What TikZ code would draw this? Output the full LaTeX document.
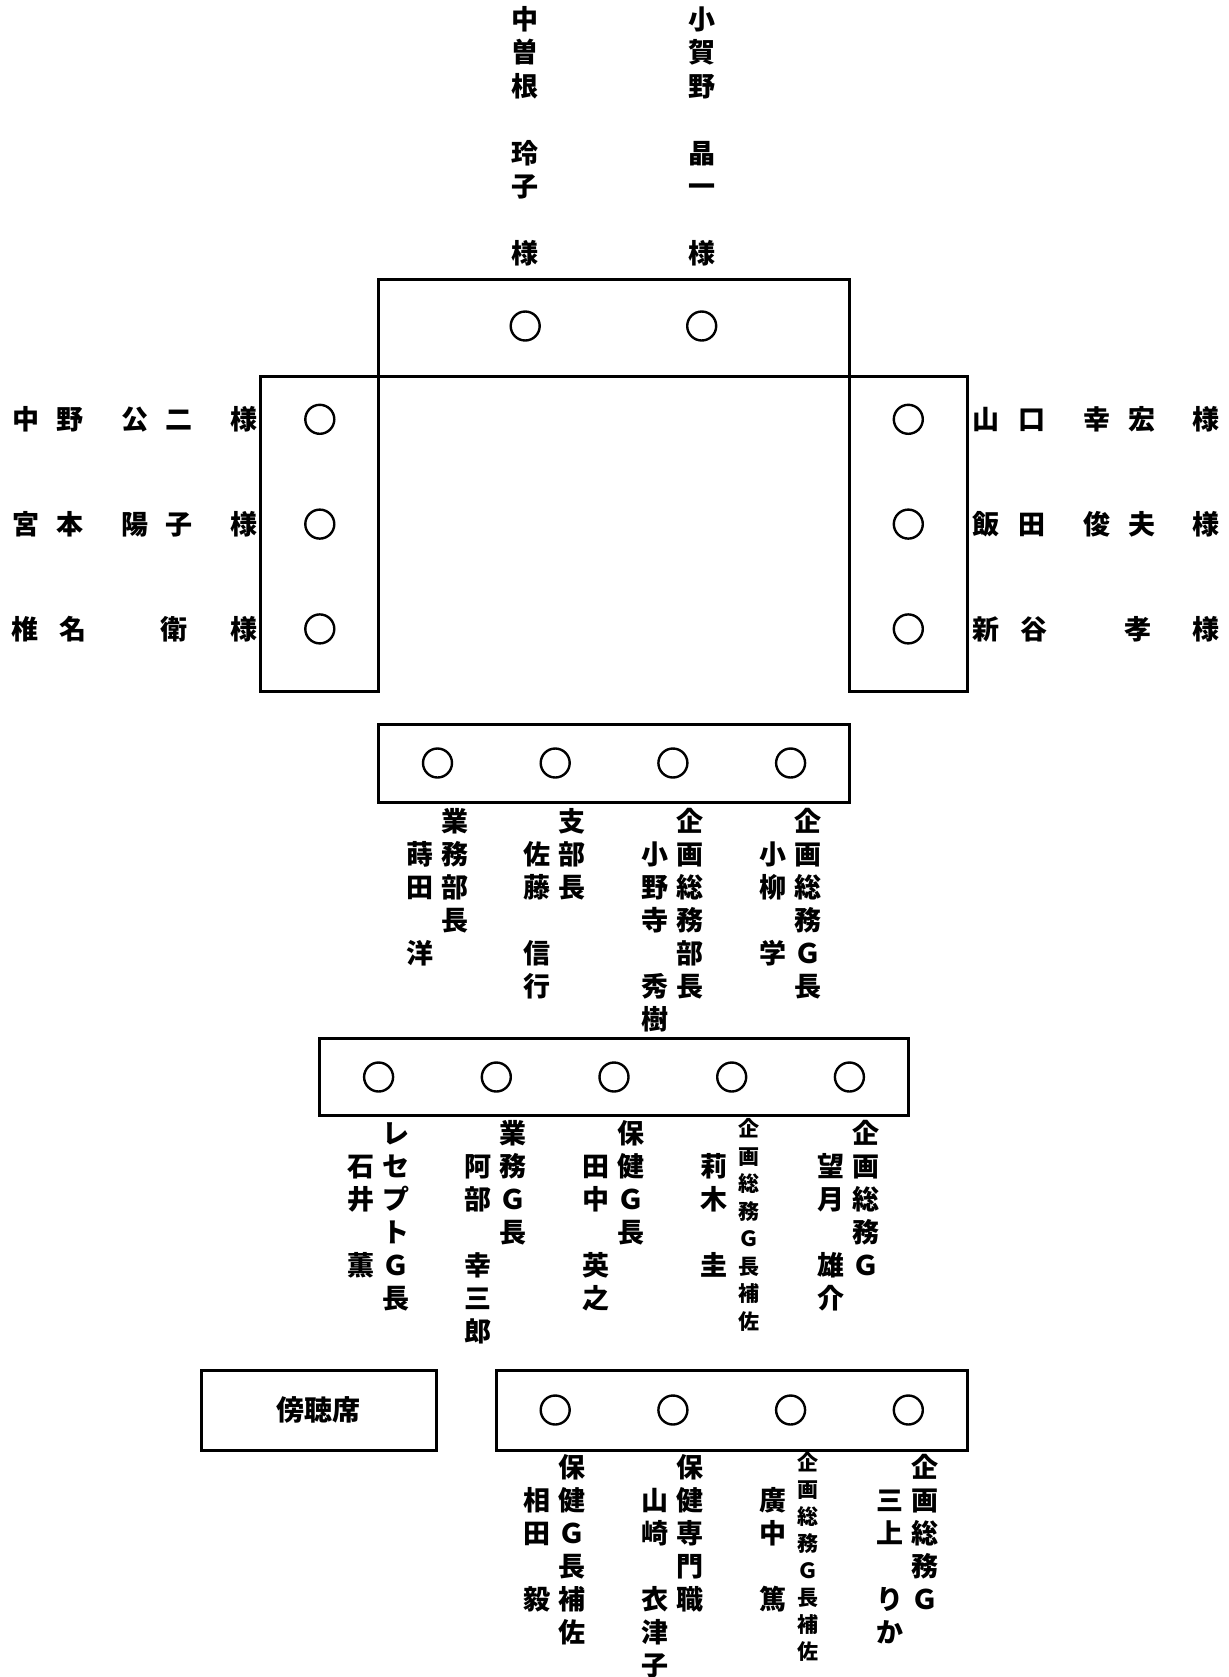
\documentclass[tikz,border=0pt]{standalone}
\usepackage{fontspec}
\newfontfamily\cjk{Noto Sans CJK JP}
\usetikzlibrary{positioning}
\tikzset{
  tbl/.style     = {draw=black, line width=1.5pt},
  seat/.style    = {circle, draw=black, line width=1.2pt, minimum size=14.5pt,
                    inner sep=0pt},
  glyph/.style   = {font=\cjk\bfseries\fontsize{13.5}{16}\selectfont,
                    inner sep=0pt, text height=11.9pt, text depth=1.6pt},
  glyphsm/.style = {glyph, font=\cjk\bfseries\fontsize{10.5}{12}\selectfont,
                    text height=9.2pt, text depth=1.3pt},
}
\newcommand{\vlabel}[6]{%        % #1 = style, #2 = name prefix, #3 = x, #4 = first y, #5 = pitch, #6 = glyphs
  \foreach \ch [count=\k] in {#6}{%
    \node[#1] (#2\k) at (#3,{#4+(\k-1)*#5}) {\ch};}}
\newcommand{\hlabel}[3]{%        % #1 = name prefix, #2 = y, #3 = glyph/x pairs
  \foreach \ch/\xx [count=\k] in {#3}{%
    \node[glyph] (#1\k) at (\xx,#2) {\ch};}}

\begin{document}
\begin{tikzpicture}[x=0.5pt,y=-0.5pt]
  \useasboundingbox (0,0) rectangle (1229,1677);
  % head table and side tables
  \draw[tbl] (378.6,279) rectangle (849.3,376.5);
  \draw[tbl] (260,376.5) rectangle (378.6,691);
  \draw[tbl] (849.3,376.5) rectangle (967,691);
  % rows
  \draw[tbl] (378.6,724) rectangle (849.3,802);
  \draw[tbl] (319.8,1038.6) rectangle (908.1,1115.6);
  \draw[tbl] (496.3,1370) rectangle (967,1450.4);
  \node[tbl, glyph, font=\cjk\bfseries\fontsize{14}{16}\selectfont,
        minimum width=117.6pt, minimum height=40.1pt]
    (pub) at (318.7,1410.2) {傍聴席};
  % seats
  \foreach \xx [count=\k] in {525.2,701.7}{\node[seat] (h\k) at (\xx,326) {};}
  \foreach \yy [count=\k] in {419.3,524.1,628.9}{%
    \node[seat] (l\k) at (319.8,\yy) {};
    \node[seat] (r\k) at (908.3,\yy) {};}
  \foreach \xx [count=\k] in {437.5,555.2,672.9,790.6}{\node[seat] (a\k) at (\xx,763) {};}
  \foreach \xx [count=\k] in {378.6,496.3,614,731.7,849.4}{\node[seat] (b\k) at (\xx,1077) {};}
  \foreach \xx [count=\k] in {555.2,672.9,790.6,908.3}{\node[seat] (c\k) at (\xx,1410) {};}
  % guests
  \vlabel{glyph}{hn1-}{525.2}{19}{33.5}{中,曽,根,,玲,子,,様}
  \vlabel{glyph}{hn2-}{701.7}{19}{33.5}{小,賀,野,,晶,一,,様}
  \hlabel{ln1-}{419.3}{中/26,野/70,公/135,二/179,様/244}
  \hlabel{ln2-}{524.1}{宮/26,本/70,陽/135,子/179,様/244}
  \hlabel{ln3-}{628.9}{椎/25,名/73,衛/174,様/244}
  \hlabel{rn1-}{419.3}{山/986,口/1032,幸/1097,宏/1142,様/1206}
  \hlabel{rn2-}{524.1}{飯/986,田/1032,俊/1097,夫/1142,様/1206}
  \hlabel{rn3-}{628.9}{新/986,谷/1034,孝/1138,様/1206}
  % row 1
  \vlabel{glyph}{at1-}{454.5}{821}{33}{業,務,部,長}
  \vlabel{glyph}{an1-}{419.5}{854}{33}{蒔,田,,洋}
  \vlabel{glyph}{at2-}{572.2}{821}{33}{支,部,長}
  \vlabel{glyph}{an2-}{537.2}{854}{33}{佐,藤,,信,行}
  \vlabel{glyph}{at3-}{689.9}{821}{33}{企,画,総,務,部,長}
  \vlabel{glyph}{an3-}{654.9}{854}{33}{小,野,寺,,秀,樹}
  \vlabel{glyph}{at4-}{807.6}{821}{33}{企,画,総,務,Ｇ,長}
  \vlabel{glyph}{an4-}{772.6}{854}{33}{小,柳,,学}
  % row 2
  \vlabel{glyph}{bt1-}{395.6}{1133}{33}{レ,セ,プ,ト,Ｇ,長}
  \vlabel{glyph}{bn1-}{360.6}{1166}{33}{石,井,,薫}
  \vlabel{glyph}{bt2-}{513.3}{1133}{33}{業,務,Ｇ,長}
  \vlabel{glyph}{bn2-}{478.3}{1166}{33}{阿,部,,幸,三,郎}
  \vlabel{glyph}{bt3-}{631}{1133}{33}{保,健,Ｇ,長}
  \vlabel{glyph}{bn3-}{596}{1166}{33}{田,中,,英,之}
  \vlabel{glyphsm}{bt4-}{748.7}{1129}{27.5}{企,画,総,務,Ｇ,長,補,佐}
  \vlabel{glyph}{bn4-}{713.7}{1166}{33}{莉,木,,圭}
  \vlabel{glyph}{bt5-}{866.4}{1133}{33}{企,画,総,務,Ｇ}
  \vlabel{glyph}{bn5-}{831.4}{1166}{33}{望,月,,雄,介}
  % row 3
  \vlabel{glyph}{ct1-}{572.2}{1467}{33}{保,健,Ｇ,長,補,佐}
  \vlabel{glyph}{cn1-}{537.2}{1500}{33}{相,田,,毅}
  \vlabel{glyph}{ct2-}{689.9}{1467}{33}{保,健,専,門,職}
  \vlabel{glyph}{cn2-}{654.9}{1500}{33}{山,崎,,衣,津,子}
  \vlabel{glyphsm}{ct3-}{807.6}{1463}{27}{企,画,総,務,Ｇ,長,補,佐}
  \vlabel{glyph}{cn3-}{772.6}{1500}{33}{廣,中,,篤}
  \vlabel{glyph}{ct4-}{925.3}{1467}{33}{企,画,総,務,Ｇ}
  \vlabel{glyph}{cn4-}{890.3}{1500}{33}{三,上,,り,か}
\end{tikzpicture}
\end{document}
